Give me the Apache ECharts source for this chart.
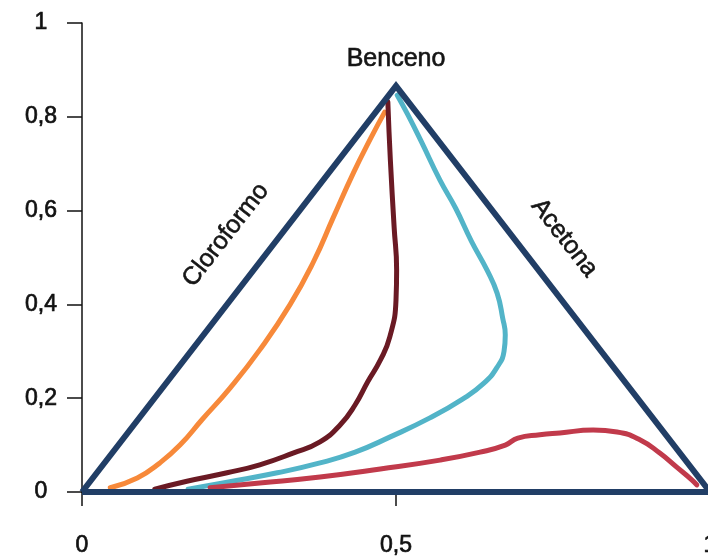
<!DOCTYPE html>
<html>
<head>
<meta charset="utf-8">
<script src="https://cdn.jsdelivr.net/npm/echarts@6/dist/echarts.min.js"></script>
<style>
  html, body { margin: 0; padding: 0; background: #fff; }
  #chart { width: 708px; height: 557px; }
</style>
</head>
<body>
<div id="chart"></div>
<script>
// triángulo de composición (Cloroformo / Benceno / Acetona)
var triangulo = [[0, 0], [0.5, 0.866], [1, 0], [0, 0]];

var naranja = [
    [0.045, 0.009], [0.088, 0.030], [0.124, 0.062], [0.156, 0.100], [0.191, 0.154],
    [0.236, 0.222], [0.283, 0.303], [0.331, 0.399], [0.369, 0.492], [0.400, 0.585],
    [0.432, 0.680], [0.460, 0.755], [0.482, 0.810]
];

var granate = [
    [0.116, 0.006], [0.167, 0.023], [0.231, 0.041], [0.283, 0.058], [0.336, 0.083],
    [0.379, 0.107], [0.411, 0.143], [0.435, 0.186], [0.455, 0.235], [0.475, 0.281],
    [0.490, 0.330], [0.500, 0.409], [0.501, 0.473], [0.497, 0.565], [0.491, 0.708],
    [0.487, 0.832]
];

var turquesa = [
    [0.169, 0.006], [0.231, 0.021], [0.311, 0.041], [0.379, 0.062], [0.435, 0.085],
    [0.490, 0.117], [0.554, 0.158], [0.606, 0.198], [0.640, 0.232], [0.661, 0.266],
    [0.672, 0.300], [0.674, 0.335], [0.670, 0.370], [0.661, 0.424], [0.645, 0.473],
    [0.620, 0.535], [0.595, 0.605], [0.570, 0.665], [0.540, 0.748], [0.519, 0.804],
    [0.502, 0.846]
];

var rojo = [
    [0.204, 0.009], [0.283, 0.019], [0.379, 0.032], [0.475, 0.049], [0.570, 0.068],
    [0.634, 0.085], [0.674, 0.100], [0.694, 0.115], [0.729, 0.122], [0.761, 0.126],
    [0.814, 0.132], [0.852, 0.128], [0.889, 0.111], [0.920, 0.083], [0.947, 0.053],
    [0.971, 0.026], [0.979, 0.015]
];

// etiquetas de los lados: texto, posición (datos), giro en grados
var etiquetas = [
    ['Benceno', [0.5, 0.924], 0],
    ['Cloroformo', [0.229, 0.548], 52],
    ['Acetona', [0.768, 0.542], -52]
];

var fuente = '"Liberation Sans", Arial, sans-serif';

function linea(datos, color, ancho, z) {
    return {
        type: 'line',
        data: datos,
        smooth: 0.5,
        symbol: 'none',
        silent: true,
        z: z,
        lineStyle: { color: color, width: ancho, cap: 'round', join: 'round' }
    };
}

var estiloEtiqueta = {
    color: '#111',
    fontSize: 23,
    fontFamily: fuente,
    textBorderColor: '#111',
    textBorderWidth: 0.7
};

var myChart = echarts.init(document.getElementById('chart'));

var option = {
    backgroundColor: '#fff',
    animation: false,
    grid: { left: 82, right: -2, top: 23, bottom: 65, outerBoundsMode: 'none', containLabel: false },
    xAxis: {
        type: 'value',
        min: 0,
        max: 1,
        interval: 0.5,
        axisLine: { lineStyle: { color: '#111', width: 1.5 } },
        axisTick: { show: true, length: 14, lineStyle: { color: '#111', width: 1.5 } },
        splitLine: { show: false },
        axisLabel: Object.assign({
            margin: 42,
            formatter: function (v) { return String(v).replace('.', ','); }
        }, estiloEtiqueta)
    },
    yAxis: {
        type: 'value',
        min: 0,
        max: 1,
        interval: 0.2,
        axisLine: { show: true, lineStyle: { color: '#111', width: 1.5 } },
        axisTick: { show: true, length: 15, lineStyle: { color: '#111', width: 1.5 } },
        splitLine: { show: false },
        axisLabel: Object.assign({
            margin: 41,
            align: 'center',
            formatter: function (v) { return String(+v.toFixed(1)).replace('.', ','); }
        }, estiloEtiqueta)
    },
    series: [
        linea(naranja, '#F7893A', 5, 2),
        linea(granate, '#6A1A24', 5, 2),
        linea(turquesa, '#52B4C8', 5, 2),
        linea(rojo, '#C13A4B', 5, 2),
        {
            type: 'line',
            data: triangulo,
            symbol: 'none',
            silent: true,
            z: 3,
            lineStyle: { color: '#213E66', width: 6, join: 'miter' }
        }
    ]
};

myChart.setOption(option);

// colocar los textos a partir de coordenadas de datos
myChart.setOption({
    graphic: etiquetas.map(function (e) {
        var p = myChart.convertToPixel({ gridIndex: 0 }, e[1]);
        return {
            type: 'text',
            x: p[0],
            y: p[1],
            rotation: e[2] * Math.PI / 180,
            style: {
                text: e[0],
                fill: '#151515',
                stroke: '#151515',
                lineWidth: 0.6,
                font: '25px ' + fuente,
                align: 'center',
                verticalAlign: 'middle'
            }
        };
    })
});
</script>
</body>
</html>
